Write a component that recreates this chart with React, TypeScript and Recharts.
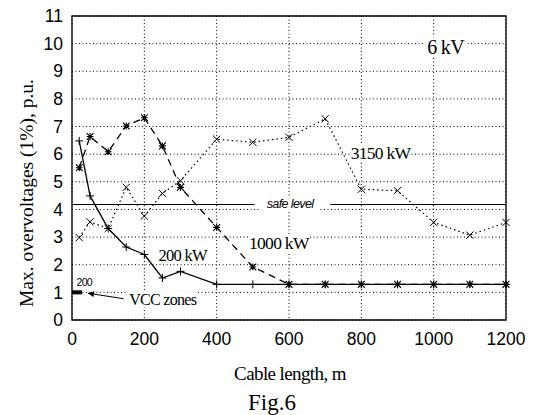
import React from 'react';
import { LineChart, Line, XAxis, YAxis, CartesianGrid, ReferenceLine, ReferenceArea, ReferenceDot } from 'recharts';

// cable length, m
const lengths = [20, 50, 100, 150, 200, 250, 300, 400, 500, 600, 700, 800, 900, 1000, 1100, 1200];
// max overvoltages (1%), p.u.
const kw200 = [6.48, 4.49, 3.31, 2.64, 2.37, 1.52, 1.76, 1.29, 1.29, 1.29, 1.29, 1.29, 1.29, 1.29, 1.29, 1.29];
const kw1000 = [5.51, 6.64, 6.09, 7.02, 7.32, 6.3, 4.8, 3.35, 1.92, 1.29, 1.29, 1.29, 1.29, 1.29, 1.29, 1.29];
const kw3150 = [2.98, 3.55, 3.31, 4.8, 3.76, 4.58, 5.04, 6.54, 6.43, 6.61, 7.28, 4.73, 4.68, 3.53, 3.07, 3.53];

const xTicks = [0, 200, 400, 600, 800, 1000, 1200];
const yTicks = [0, 1, 2, 3, 4, 5, 6, 7, 8, 9, 10, 11];

const safeLevel = 4.18;

const notes = [
    { x: 1033, y: 9.87, text: '6 kV', size: 20 },
    { x: 853, y: 6.04, text: '3150 kW', size: 17.5 },
    { x: 572, y: 2.78, text: '1000 kW', size: 17.5 },
    { x: 306, y: 2.34, text: '200 kW', size: 16.5 },
    { x: 251, y: 0.74, text: 'VCC zones', size: 16 },
];

const serif = '"Liberation Serif", "Times New Roman", serif';
const sans = '"Liberation Sans", Arial, sans-serif';

const chartData = lengths.map((x, i) => ({ x, kw200: kw200[i], kw1000: kw1000[i], kw3150: kw3150[i] }));

const PlusDot = (p: any) => {
    const { cx, cy, index } = p;
    if (cx == null || cy == null) return <g key={`pl${index}`} />;
    const s = 4;
    return <path key={`pl${index}`} d={`M${cx - s},${cy}H${cx + s}M${cx},${cy - s}V${cy + s}`} stroke="#000" strokeWidth={1} fill="none" />;
};

const CrossDot = (p: any) => {
    const { cx, cy, index } = p;
    if (cx == null || cy == null) return <g key={`cr${index}`} />;
    const s = 3.6;
    return <path key={`cr${index}`} d={`M${cx - s},${cy - s}L${cx + s},${cy + s}M${cx - s},${cy + s}L${cx + s},${cy - s}`} stroke="#000" strokeWidth={1} fill="none" />;
};

const StarDot = (p: any) => {
    const { cx, cy, index } = p;
    if (cx == null || cy == null) return <g key={`st${index}`} />;
    const s = 3.4;
    return (
        <path
            key={`st${index}`}
            d={`M${cx - s},${cy - s}L${cx + s},${cy + s}M${cx - s},${cy + s}L${cx + s},${cy - s}M${cx - s},${cy}H${cx + s}M${cx},${cy - s}V${cy + s}`}
            stroke="#000"
            strokeWidth={1.1}
            fill="none"
        />
    );
};

const noteContent = (text: string, size: number, italic = false, font = serif) => (props: any) => {
    const vb = props.viewBox || {};
    const w = text.length * size * (italic ? 0.42 : 0.45) + 6;
    return (
        <g>
            <rect x={vb.x - w / 2} y={vb.y - size * 0.5} width={w} height={size} fill="#fff" />
            <text
                x={vb.x}
                y={vb.y}
                textAnchor="middle"
                dominantBaseline="central"
                fontFamily={font}
                fontSize={size}
                fontStyle={italic ? 'italic' : 'normal'}
                letterSpacing={italic ? -0.6 : -0.7}
                fill="#000"
            >
                {text}
            </text>
        </g>
    );
};

export default function App() {
    return (
        <div style={{ position: 'absolute', left: 0, top: 0, width: 534, height: 415, background: '#fff' }}>
            <LineChart width={534} height={415} data={chartData} margin={{ top: 16, right: 28, left: 0, bottom: 65 }}>
                <defs>
                    <marker id="arrowHead" viewBox="0 0 10 10" refX="10" refY="5" markerWidth="9" markerHeight="6" markerUnits="userSpaceOnUse" orient="auto">
                        <path d="M0,0L10,5L0,10z" fill="#000" />
                    </marker>
                </defs>
                <CartesianGrid stroke="#000" strokeDasharray="1 2.5" strokeWidth={1} />
                <XAxis
                    dataKey="x"
                    type="number"
                    domain={[0, 1200]}
                    ticks={xTicks}
                    height={30}
                    axisLine={false}
                    tickLine={false}
                    tickSize={0}
                    tickMargin={13}
                    tick={{ fill: '#000', fontSize: 17.5, fontFamily: sans }}
                    label={{
                        content: () => (
                            <g>
                                <text x={290} y={373} textAnchor="middle" dominantBaseline="central" fontFamily={serif} fontSize={19} letterSpacing={-0.6} fill="#000">
                                    Cable length, m
                                </text>
                                <text x={272} y={402} textAnchor="middle" dominantBaseline="central" fontFamily={serif} fontSize={23} fill="#000">
                                    Fig.6
                                </text>
                            </g>
                        ),
                    }}
                />
                <YAxis
                    type="number"
                    domain={[0, 11]}
                    ticks={yTicks}
                    width={72}
                    axisLine={false}
                    tickLine={false}
                    tickSize={0}
                    tickMargin={9}
                    tick={{ fill: '#000', fontSize: 17.5, fontFamily: sans }}
                    label={{
                        content: () => (
                            <text x={26} y={193} transform="rotate(-90 26 193)" textAnchor="middle" dominantBaseline="central" fontFamily={serif} fontSize={19.5} fill="#000">
                                Max. overvoltages (1%), p.u.
                            </text>
                        ),
                    }}
                />
                <ReferenceArea x1={0} x2={1200} y1={0} y2={11} fill="none" stroke="#000" strokeWidth={1.3} />

                <ReferenceLine segment={[{ x: 0, y: safeLevel }, { x: 505, y: safeLevel }]} stroke="#000" strokeWidth={1.2} />
                <ReferenceLine segment={[{ x: 714, y: safeLevel }, { x: 1200, y: safeLevel }]} stroke="#000" strokeWidth={1.2} />
                <ReferenceDot x={603} y={safeLevel} r={0} fill="none" stroke="none" label={{ content: noteContent('safe level', 12.5, true, sans) }} />

                <ReferenceLine segment={[{ x: 0, y: 1 }, { x: 28, y: 1 }]} stroke="#000" strokeWidth={4} />
                <ReferenceLine segment={[{ x: 143, y: 0.77 }, { x: 44, y: 0.97 }]} stroke="#000" strokeWidth={1} markerEnd="url(#arrowHead)" />
                <ReferenceDot x={34} y={1.36} r={0} fill="none" stroke="none" label={{ content: noteContent('200', 10.5, false, sans) }} />

                <Line dataKey="kw3150" stroke="#000" strokeWidth={1.2} strokeDasharray="1.5 3" dot={CrossDot} isAnimationActive={false} />
                <Line dataKey="kw1000" stroke="#000" strokeWidth={1.3} strokeDasharray="7 5" dot={StarDot} isAnimationActive={false} />
                <Line dataKey="kw200" stroke="#000" strokeWidth={1.3} dot={PlusDot} isAnimationActive={false} />

                {notes.map((n) => (
                    <ReferenceDot key={n.text} x={n.x} y={n.y} r={0} fill="none" stroke="none" label={{ content: noteContent(n.text, n.size) }} />
                ))}
            </LineChart>
        </div>
    );
}
